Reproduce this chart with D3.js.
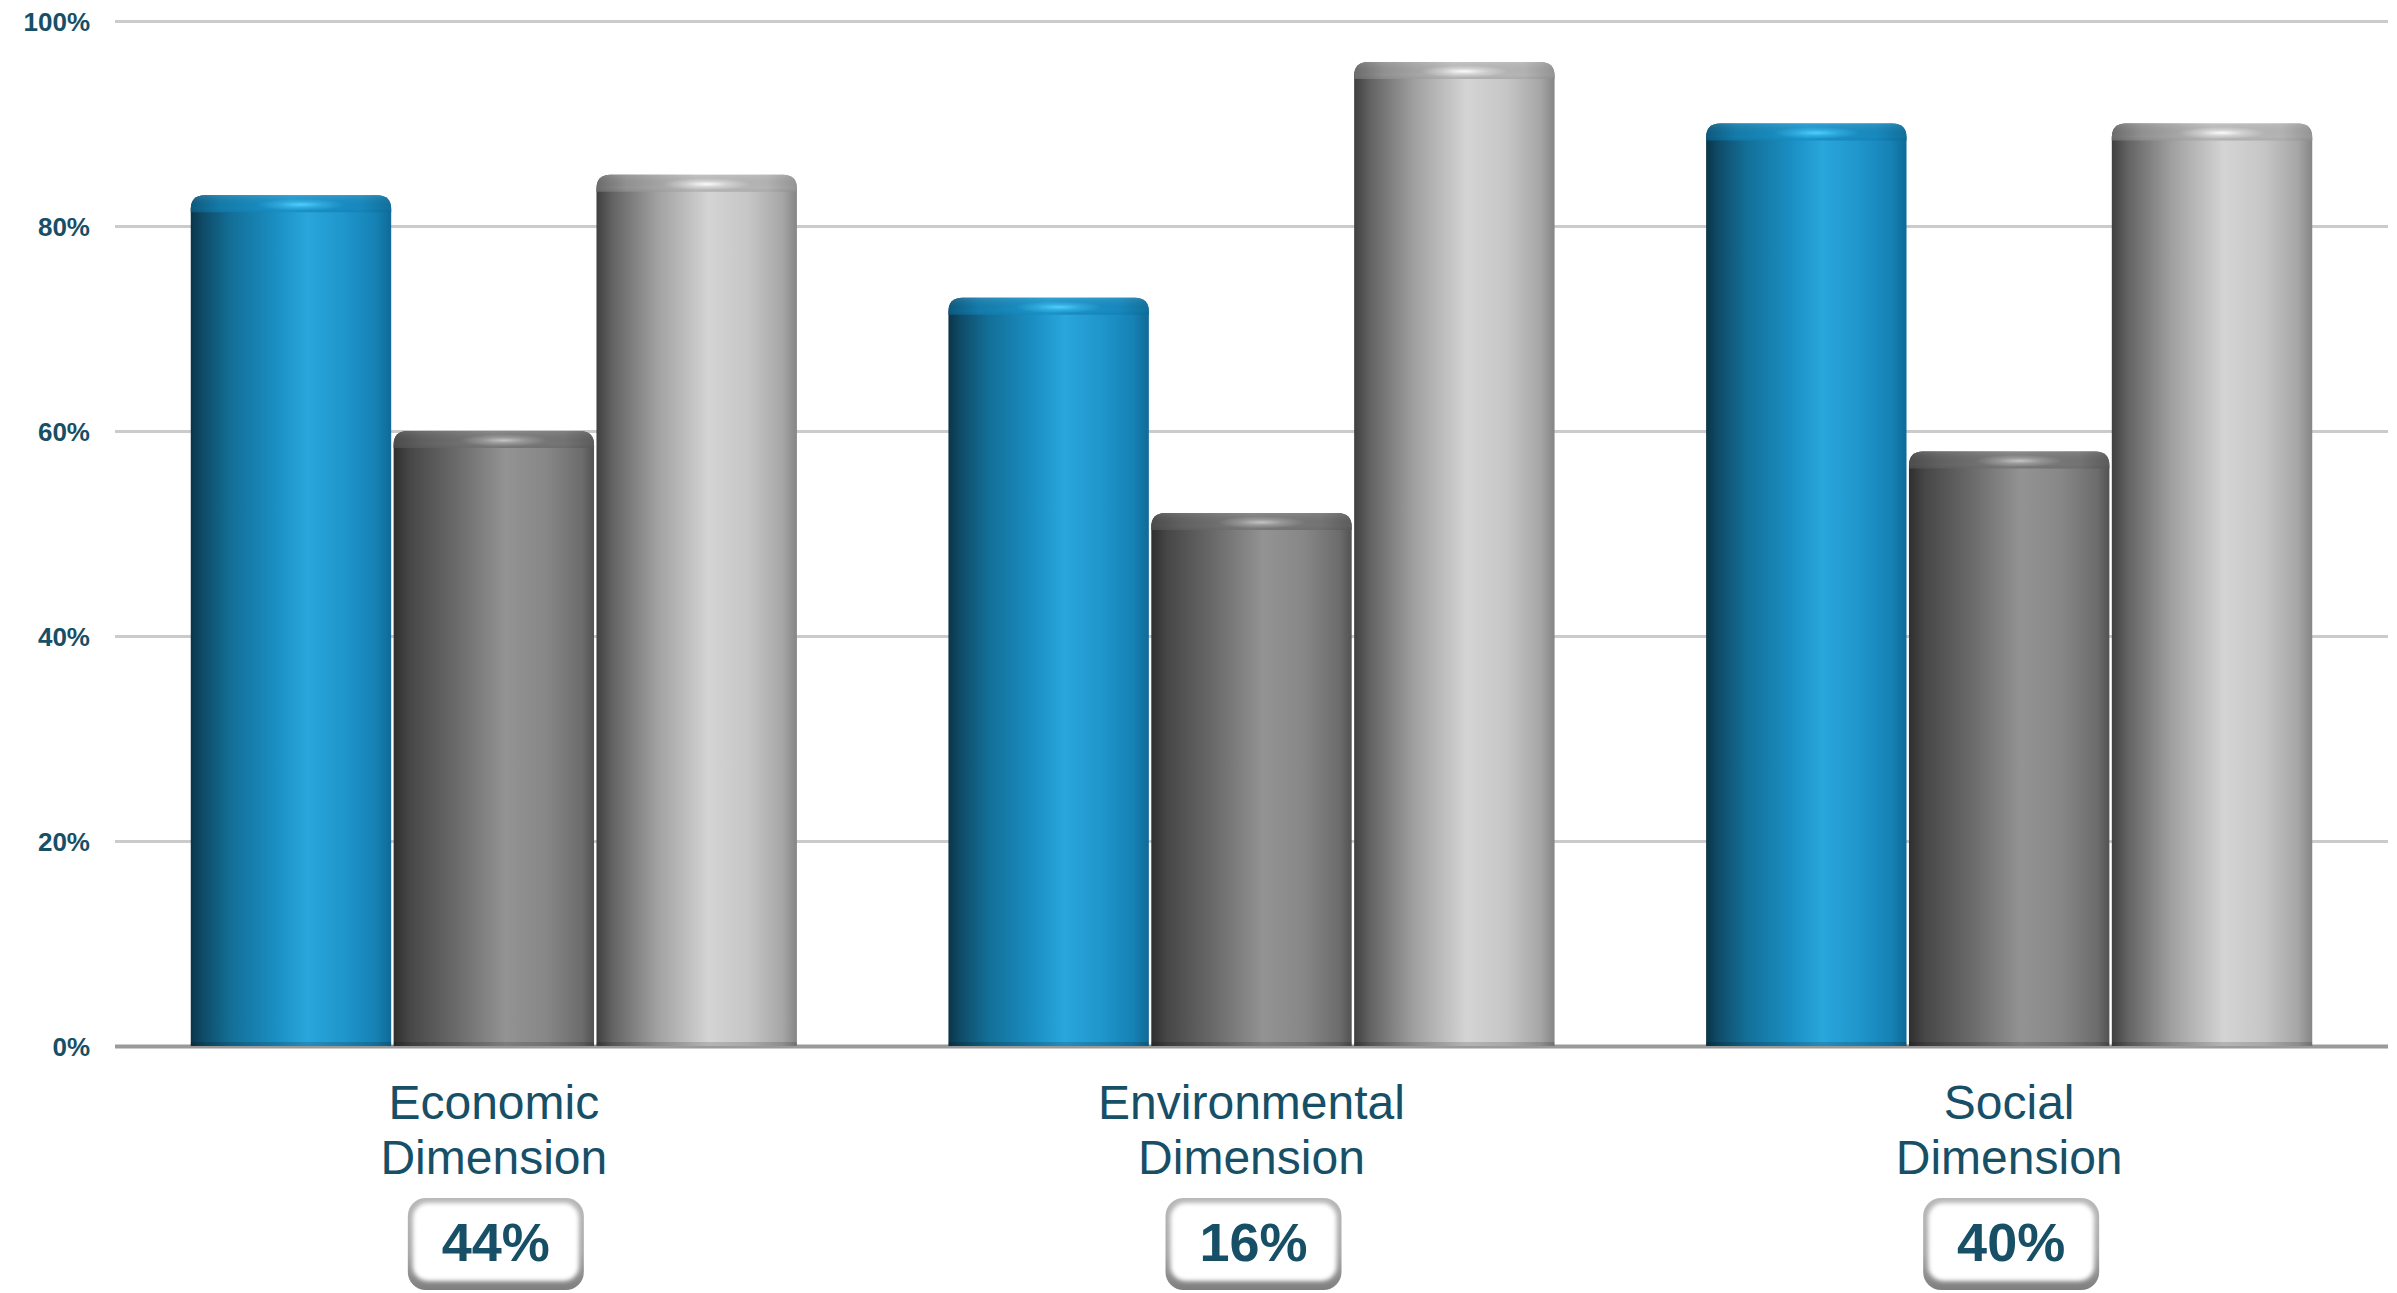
<!DOCTYPE html>
<html>
<head>
<meta charset="utf-8">
<script src="https://cdn.jsdelivr.net/npm/d3@7"></script>
<style>
  html, body { margin: 0; padding: 0; background: #ffffff; }
  svg { display: block; }
</style>
</head>
<body>
<svg id="chart" width="2397" height="1293"></svg>
<script>
// ---- data ----
const categories = ["Economic Dimension", "Environmental Dimension", "Social Dimension"];
const categoryLines = [["Economic", "Dimension"], ["Environmental", "Dimension"], ["Social", "Dimension"]];
const seriesKeys = ["blue", "dark", "light"];
const blueValues = [83, 73, 90];
const darkValues = [60, 52, 58];
const lightValues = [85, 96, 90];
const shareLabels = ["44%", "16%", "40%"];
const yTicks = [0, 20, 40, 60, 80, 100];

const seriesValues = { blue: blueValues, dark: darkValues, light: lightValues };
const rows = categories.map((c, i) => ({ cat: c, lines: categoryLines[i], share: shareLabels[i],
  vals: seriesKeys.map(k => ({ key: k, value: seriesValues[k][i] })) }));

// ---- layout ----
const plotLeft = 115, plotRight = 2388, plotTop = 21, plotBottom = 1046;
const svg = d3.select("#chart");
const defs = svg.append("defs");

const x0 = d3.scaleBand().domain(categories).range([plotLeft, plotRight]).paddingInner(0.2).paddingOuter(0.1);
const x1 = d3.scaleBand().domain(seriesKeys).range([0, x0.bandwidth()]).paddingInner(0.012);
const y = d3.scaleLinear().domain([0, 100]).range([plotBottom, plotTop]);

const labelColor = "#174f66";
const font = "'Liberation Sans', Arial, Helvetica, sans-serif";

// gradients
const gradStops = {
  blue: [[0, "#0a3549"], [0.06, "#0f4b68"], [0.2, "#136f97"], [0.42, "#1a8ec2"], [0.58, "#29a6dc"], [0.76, "#1f96cc"], [0.92, "#1682b5"], [1, "#0f6a96"]],
  dark: [[0, "#2f2f2f"], [0.08, "#474747"], [0.3, "#686868"], [0.56, "#939393"], [0.76, "#878787"], [0.94, "#6c6c6c"], [1, "#525252"]],
  light: [[0, "#3f3f3f"], [0.08, "#636363"], [0.3, "#a0a0a0"], [0.56, "#d4d4d4"], [0.76, "#c6c6c6"], [0.93, "#a6a6a6"], [1, "#858585"]]
};
const capStops = {
  blue: [[0, "#0d5a80"], [0.15, "#137cab"], [0.5, "#1c98d0"], [0.85, "#1789bf"], [1, "#10709c"]],
  dark: [[0, "#4c4c4c"], [0.15, "#616161"], [0.5, "#7e7e7e"], [0.85, "#747474"], [1, "#5c5c5c"]],
  light: [[0, "#6c6c6c"], [0.15, "#929292"], [0.5, "#bcbcbc"], [0.85, "#b4b4b4"], [1, "#959595"]]
};
const hiColor = { blue: "#52d2ff", dark: "#c8c8c8", light: "#ffffff" };

seriesKeys.forEach(k => {
  const g = defs.append("linearGradient").attr("id", "body-" + k).attr("x1", 0).attr("x2", 1).attr("y1", 0).attr("y2", 0);
  gradStops[k].forEach(s => g.append("stop").attr("offset", s[0]).attr("stop-color", s[1]));
  const c = defs.append("linearGradient").attr("id", "cap-" + k).attr("x1", 0).attr("x2", 1).attr("y1", 0).attr("y2", 0);
  capStops[k].forEach(s => c.append("stop").attr("offset", s[0]).attr("stop-color", s[1]));
  const h = defs.append("radialGradient").attr("id", "hi-" + k).attr("cx", 0.5).attr("cy", 0.5).attr("r", 0.5);
  h.append("stop").attr("offset", 0).attr("stop-color", hiColor[k]).attr("stop-opacity", 0.95);
  h.append("stop").attr("offset", 0.5).attr("stop-color", hiColor[k]).attr("stop-opacity", 0.35);
  h.append("stop").attr("offset", 1).attr("stop-color", hiColor[k]).attr("stop-opacity", 0);
});
const capShade = defs.append("linearGradient").attr("id", "capShade").attr("x1", 0).attr("x2", 0).attr("y1", 0).attr("y2", 1);
capShade.append("stop").attr("offset", 0).attr("stop-color", "#ffffff").attr("stop-opacity", 0.1);
capShade.append("stop").attr("offset", 0.75).attr("stop-color", "#000000").attr("stop-opacity", 0.0);
capShade.append("stop").attr("offset", 1).attr("stop-color", "#000000").attr("stop-opacity", 0.06);

const boxGrad = defs.append("linearGradient").attr("id", "boxGrad").attr("x1", 0).attr("x2", 0).attr("y1", 0).attr("y2", 1);
boxGrad.append("stop").attr("offset", 0).attr("stop-color", "#b8b8b8");
boxGrad.append("stop").attr("offset", 0.6).attr("stop-color", "#a8a8a8");
boxGrad.append("stop").attr("offset", 1).attr("stop-color", "#7e7e7e");
const blur = defs.append("filter").attr("id", "soft").attr("x", "-10%").attr("y", "-10%").attr("width", "120%").attr("height", "120%");
blur.append("feGaussianBlur").attr("stdDeviation", 2.2);

// ---- axis / gridlines ----
const axis = d3.axisLeft(y).tickValues(yTicks).tickFormat(d => d + "%").tickSize(-(plotRight - plotLeft)).tickPadding(25);
const ax = svg.append("g").attr("transform", `translate(${plotLeft},0)`).call(axis);
ax.select(".domain").remove();
ax.selectAll(".tick line").attr("stroke", d => d === 0 ? "#9a9a9a" : "#cbcbcb").attr("stroke-width", d => d === 0 ? 4 : 3);
ax.selectAll(".tick text")
  .attr("font-family", font).attr("font-size", 26).attr("font-weight", "bold")
  .attr("fill", labelColor).attr("dy", "0.38em");

// ---- bars ----
const cornerR = 14, capH = 17;
function topRounded(x, yTop, w, h) {
  const rr = Math.min(cornerR, h, w / 2);
  return `M${x},${yTop + h} L${x},${yTop + rr} Q${x},${yTop} ${x + rr},${yTop} L${x + w - rr},${yTop} Q${x + w},${yTop} ${x + w},${yTop + rr} L${x + w},${yTop + h} Z`;
}
const groups = svg.append("g").selectAll("g.grp").data(rows).join("g")
  .attr("class", "grp").attr("transform", d => `translate(${x0(d.cat)},0)`);

const bars = groups.selectAll("g.bar").data(d => d.vals).join("g").attr("class", "bar");
bars.append("path")
  .attr("d", d => topRounded(x1(d.key), y(d.value), x1.bandwidth(), y(0) - y(d.value)))
  .attr("fill", d => `url(#body-${d.key})`);
bars.append("path")
  .attr("d", d => topRounded(x1(d.key), y(d.value), x1.bandwidth(), capH))
  .attr("fill", d => `url(#cap-${d.key})`);
bars.append("path")
  .attr("d", d => topRounded(x1(d.key), y(d.value), x1.bandwidth(), capH))
  .attr("fill", "url(#capShade)");
bars.append("ellipse")
  .attr("cx", d => x1(d.key) + x1.bandwidth() * 0.55)
  .attr("cy", d => y(d.value) + capH * 0.55)
  .attr("rx", d => x1.bandwidth() * 0.22)
  .attr("ry", 6)
  .attr("fill", d => `url(#hi-${d.key})`);
bars.append("rect")
  .attr("x", d => x1(d.key)).attr("y", y(0) - 4)
  .attr("width", x1.bandwidth()).attr("height", 4)
  .attr("fill", "#000").attr("opacity", 0.15);

// ---- category labels ----
groups.append("text")
  .attr("x", x0.bandwidth() / 2).attr("y", 1119)
  .attr("text-anchor", "middle")
  .attr("font-family", font).attr("font-size", 48).attr("fill", labelColor)
  .selectAll("tspan").data(d => d.lines).join("tspan")
  .attr("x", x0.bandwidth() / 2).attr("dy", (d, i) => i === 0 ? 0 : 55)
  .text(d => d);

// ---- share boxes ----
const bw = 176, bh = 92, by = 1198;
const boxes = groups.append("g").attr("transform", `translate(${x0.bandwidth() / 2 + 2},0)`);
boxes.append("rect").attr("x", -bw / 2).attr("y", by).attr("width", bw).attr("height", bh)
  .attr("rx", 18).attr("fill", "url(#boxGrad)");
boxes.append("rect").attr("x", -bw / 2 + 5).attr("y", by + 5).attr("width", bw - 10).attr("height", bh - 14)
  .attr("rx", 15).attr("fill", "#ffffff").attr("filter", "url(#soft)");
boxes.append("text")
  .attr("x", 0).attr("y", 1261)
  .attr("text-anchor", "middle")
  .attr("font-family", font).attr("font-size", 54).attr("font-weight", "bold").attr("fill", labelColor)
  .text(d => d.share);
</script>
</body>
</html>
